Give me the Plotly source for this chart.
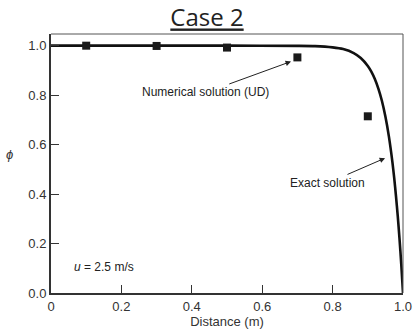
import plotly.graph_objects as go

# Exact solution curve
exact_x = [0.0, 0.5, 0.7, 0.75, 0.8, 0.83, 0.86, 0.88, 0.9, 0.91, 0.92, 0.93, 0.94,
           0.95, 0.96, 0.97, 0.975, 0.98, 0.985, 0.99, 0.995, 1.0]
exact_y = [1.0, 1.0, 0.999, 0.998, 0.993, 0.986, 0.970, 0.950, 0.918, 0.895, 0.865,
           0.826, 0.777, 0.713, 0.632, 0.528, 0.465, 0.393, 0.313, 0.221, 0.118, 0.0]

# Numerical solution (UD)
num_x = [0.1, 0.3, 0.5, 0.7, 0.9]
num_y = [0.9998, 0.9987, 0.9921, 0.9524, 0.7143]

x_ticks = [0, 0.2, 0.4, 0.6, 0.8, 1.0]
x_ticktext = ["0", "0.2", "0.4", "0.6", "0.8", "1.0"]
y_ticks = [0, 0.2, 0.4, 0.6, 0.8, 1.0]
y_ticktext = ["0.0", "0.2", "0.4", "0.6", "0.8", "1.0"]

fig = go.Figure()
fig.add_trace(go.Scatter(x=exact_x, y=exact_y, mode="lines",
                         line=dict(color="#111111", width=2.6, shape="spline", smoothing=0.6),
                         showlegend=False, cliponaxis=False))
fig.add_trace(go.Scatter(x=num_x, y=num_y, mode="markers",
                         marker=dict(symbol="square", size=8, color="#1a1a1a"),
                         showlegend=False, cliponaxis=False))

font_main = "Liberation Sans, Arial, sans-serif"

fig.update_layout(
    template="none",
    width=414, height=329,
    margin=dict(l=51, r=11, t=34, b=36, autoexpand=False),
    paper_bgcolor="white", plot_bgcolor="white",
    title=dict(text="<u>Case 2</u>", x=0.5, xanchor="center", y=0.945, yanchor="middle",
               font=dict(family="Open Sans, sans-serif", size=24, color="#222222")),
    xaxis=dict(range=[0, 1.0], tickvals=x_ticks, ticktext=x_ticktext, automargin=False,
               ticks="inside", ticklen=8, tickwidth=1, tickcolor="#333333",
               showline=True, linecolor="#333333", linewidth=2, showgrid=False, zeroline=False,
               tickfont=dict(family=font_main, size=13, color="#333333"),
               title=dict(text="Distance (m)", standoff=4,
                          font=dict(family=font_main, size=13, color="#333333"))),
    yaxis=dict(range=[0, 1.047], tickvals=y_ticks, ticktext=y_ticktext, automargin=False,
               ticks="inside", ticklen=8, tickwidth=1, tickcolor="#333333",
               showline=True, linecolor="#333333", linewidth=2, showgrid=False, zeroline=False,
               tickfont=dict(family=font_main, size=13, color="#333333")),
)

# frame top/right
fig.add_shape(type="line", xref="paper", yref="paper", x0=0, x1=1, y0=1, y1=1,
              line=dict(color="#555555", width=1))
fig.add_shape(type="line", xref="paper", yref="paper", x0=1, x1=1, y0=0, y1=1,
              line=dict(color="#555555", width=1))

# y-axis symbol
fig.add_annotation(text="<i>ϕ</i>", xref="paper", yref="paper", x=-0.119, y=0.533,
                   xanchor="center", yanchor="middle",
                   showarrow=False, font=dict(family=font_main, size=13, color="#333333"))

# annotations with arrows
fig.add_annotation(text="Numerical solution (UD)", x=0.69, y=0.94, xref="x", yref="y",
                   ax=-88, ay=32, showarrow=True,
                   arrowhead=2, arrowsize=1.1, arrowwidth=1, arrowcolor="#222222",
                   standoff=3, xanchor="center",
                   font=dict(family=font_main, size=12, color="#222222"))
fig.add_annotation(text="Exact solution", x=0.957, y=0.55, xref="x", yref="y",
                   ax=-60, ay=26, showarrow=True,
                   arrowhead=2, arrowsize=1.1, arrowwidth=1, arrowcolor="#222222",
                   standoff=3,
                   font=dict(family=font_main, size=12, color="#222222"))

fig.add_annotation(text="<i>u</i> = 2.5 m/s", x=0.06, y=0.105, xref="x", yref="y",
                   showarrow=False, xanchor="left",
                   font=dict(family=font_main, size=12, color="#222222"))

fig.write_html("out.html", config={"displayModeBar": False},
               post_script="document.body.style.margin='0px';document.body.style.overflow='hidden';")
